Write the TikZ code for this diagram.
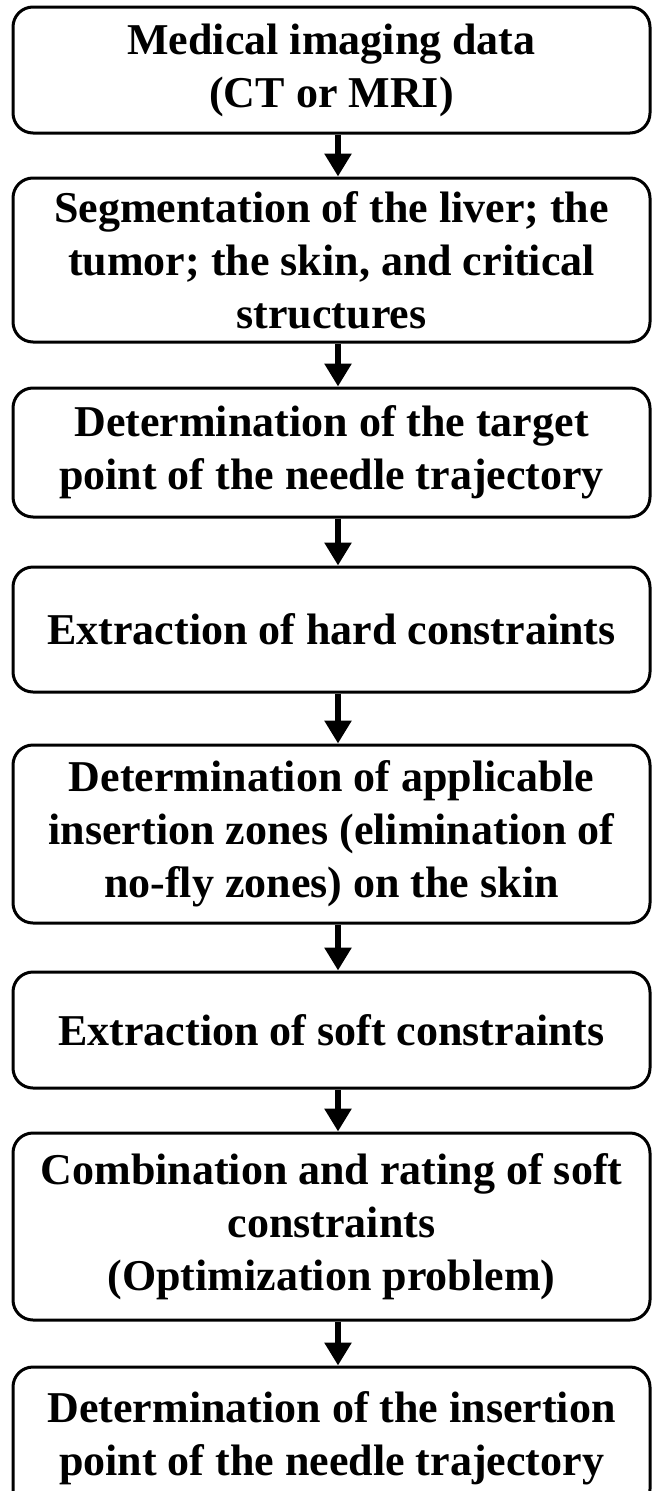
\documentclass[tikz,border=0pt]{standalone}
\usepackage{fontspec}
\setmainfont{Liberation Serif}
\usetikzlibrary{arrows.meta, positioning}

\begin{document}
\begin{tikzpicture}[
    x=1pt, y=1pt,
    >={Triangle[width=26pt,length=23pt]},
    stage/.style={draw, line width=3pt, rounded corners=20pt, align=center,
        minimum width=637pt, inner sep=0pt},
    flow/.style={->, line width=6pt},
    every node/.style={font=\bfseries\fontsize{44}{53}\selectfont}
]
\useasboundingbox (0,0) rectangle (652,-1491);

\node[stage, minimum height=126pt] (data) at (331.5,-70) {Medical imaging data\\(CT or MRI)};
\node[stage, minimum height=164pt] (seg) at (331.5,-260) {Segmentation of the liver; the\\tumor; the skin, and critical\\structures};
\node[stage, minimum height=129pt] (target) at (331.5,-452.5) {Determination of the target\\point of the needle trajectory};
\node[stage, minimum height=125pt] (hard) at (331.5,-629.5) {Extraction of hard constraints};
\node[stage, minimum height=178pt] (zones) at (331.5,-834) {Determination of applicable\\insertion zones (elimination of\\no-fly zones) on the skin};
\node[stage, minimum height=116pt] (soft) at (331.5,-1030) {Extraction of soft constraints};
\node[stage, minimum height=187pt] (rating) at (331.5,-1226.5) {Combination and rating of soft\\constraints\\(Optimization problem)};
\node[stage, minimum height=142pt] (insert) at (331.5,-1438) {Determination of the insertion\\point of the needle trajectory};

% arrows sit a little right of the box centre
\draw[flow] ([xshift=6.5pt]data.south) -- ([xshift=6.5pt]seg.north);
\draw[flow] ([xshift=6.5pt]seg.south) -- ([xshift=6.5pt]target.north);
\draw[flow] ([xshift=6.5pt]target.south) -- ([xshift=6.5pt]hard.north);
\draw[flow] ([xshift=6.5pt]hard.south) -- ([xshift=6.5pt]zones.north);
\draw[flow] ([xshift=6.5pt]zones.south) -- ([xshift=6.5pt]soft.north);
\draw[flow] ([xshift=6.5pt]soft.south) -- ([xshift=6.5pt]rating.north);
\draw[flow] ([xshift=6.5pt]rating.south) -- ([xshift=6.5pt]insert.north);
\end{tikzpicture}
\end{document}
